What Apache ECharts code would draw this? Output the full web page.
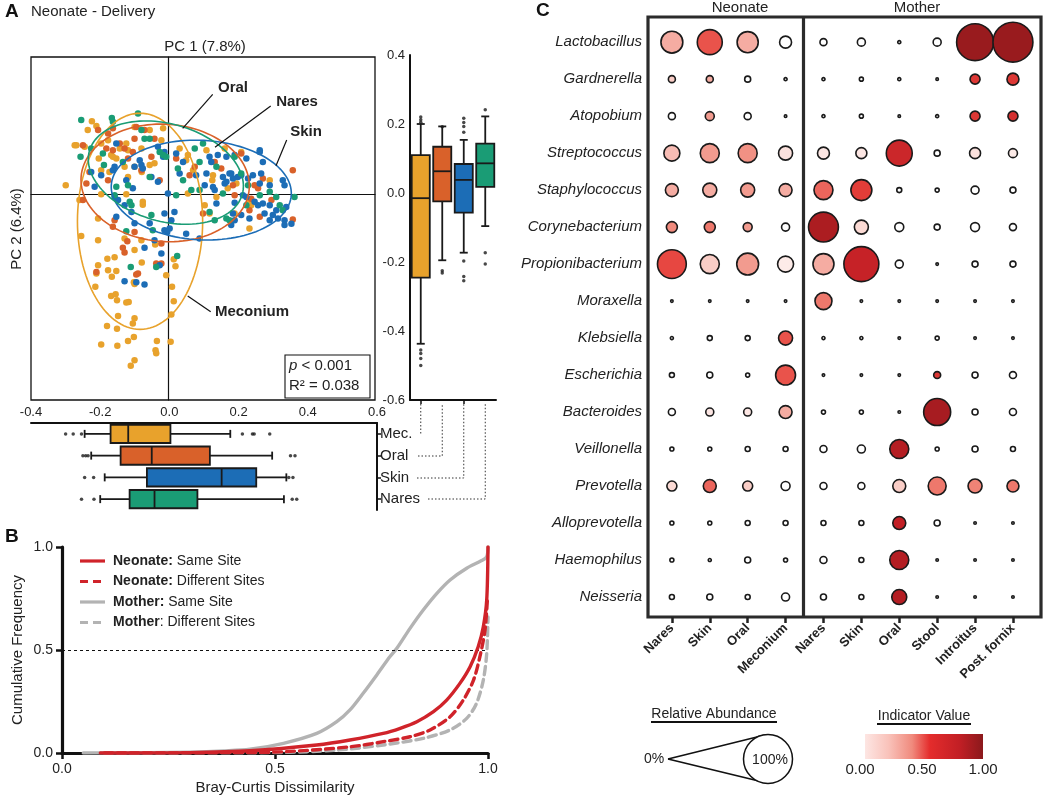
<!DOCTYPE html>
<html><head><meta charset="utf-8">
<script src="https://cdn.jsdelivr.net/npm/echarts@6/dist/echarts.min.js"></script>
<style>html,body{margin:0;padding:0;background:#fff}#c{width:1050px;height:798px}</style>
</head><body><div id="c"></div>
<script>
const FONT = '"Liberation Sans", Arial, Helvetica, sans-serif';
const INK = '#1a1a1a';

// ---------- Panel A data ----------
const groups = ['Meconium', 'Oral', 'Skin', 'Nares'];
const groupColors = ['#E8A22C', '#D9612A', '#1C6DB6', '#1A9C75'];

const pcaMeconium = [
  [-0.273,0.143],[-0.235,0.187],[-0.223,0.213],[-0.21,0.199],[-0.299,0.026],[-0.203,0.104],[-0.196,0.07],[-0.172,0.065],
  [-0.167,0.114],[-0.152,0.104],[-0.123,0.148],[-0.118,0.128],[-0.128,0.08],[-0.099,0.08],[-0.118,0.05],[-0.078,0.065],
  [-0.055,0.085],[-0.041,0.09],[-0.079,0.133],[-0.021,0.157],[-0.055,0.187],[-0.099,0.196],[-0.016,0.192],[-0.196,0],
  [-0.123,0],[-0.075,-0.022],[-0.075,-0.031],[-0.205,-0.071],[-0.162,0.109],[-0.142,0.133],[-0.196,0.148],[-0.176,0.157],
  [0.032,0.133],[0.056,0.114],[0.051,0.099],[0.071,0.07],[0.129,0.055],[0.127,0.041],[0.163,0.133],[0.172,0.017],
  [0.197,0.031],[0.211,0.123],[0.235,-0.022],[0.24,-0.032],[0.294,0.041],[0.056,0.002],[0.139,-0.008],[0.105,-0.032],
  [0.119,-0.056],[0.192,-0.056],[0.235,-0.1],[0.11,0.128],
  [-0.254,-0.122],[-0.205,-0.134],[-0.178,-0.188],[-0.157,-0.184],[-0.205,-0.207],[-0.21,-0.231],[-0.176,-0.222],
  [-0.152,-0.224],[-0.165,-0.241],[-0.213,-0.27],[-0.099,-0.163],[-0.078,-0.199],[-0.099,-0.262],[-0.167,-0.297],
  [-0.154,-0.292],[-0.15,-0.309],[-0.123,-0.316],[-0.116,-0.314],[-0.147,-0.355],[-0.099,-0.362],[-0.104,-0.377],
  [-0.179,-0.384],[-0.15,-0.392],[-0.101,-0.416],[-0.118,-0.428],[-0.196,-0.438],[-0.149,-0.442],[-0.034,-0.428],
  [-0.038,-0.455],[-0.036,-0.464],[-0.099,-0.484],[-0.11,-0.5],[0.006,-0.43],[0.01,-0.27],[0.015,-0.312],[0.008,-0.351],
  [-0.007,-0.236],[0.02,-0.21],[0.015,-0.19],[-0.039,-0.147],[-0.079,-0.134],[-0.128,-0.129],[-0.101,-0.257],
  [-0.268,0.143],[-0.244,0.138],[-0.259,-0.017]
];
const pcaOral = [
  [-0.249,0.143],[-0.205,0.187],[-0.176,0.177],[-0.162,0.192],[-0.181,0.133],[-0.162,0.128],[-0.142,0.148],[-0.128,0.133],
  [-0.104,0.123],[-0.099,0.162],[-0.07,0.187],[-0.041,0.162],[-0.05,0.109],[-0.079,0.07],[-0.118,0.104],[-0.176,0.041],
  [-0.239,0.031],[-0.23,0.065],[-0.094,0.196],[-0.026,0.041],[-0.157,-0.076],[-0.249,-0.017],
  [-0.133,-0.156],[-0.128,-0.17],[-0.12,-0.137],[-0.099,-0.11],[-0.036,-0.202],[-0.021,-0.144],[-0.094,-0.234],
  [-0.089,-0.231],[-0.21,-0.227],[-0.021,-0.202],[-0.162,-0.095],
  [0.022,0.104],[0.061,0.055],[0.076,0.08],[0.134,0.094],[0.153,0.075],[0.187,0.026],[0.211,0.119],[0.25,0.026],
  [0.26,0.017],[0.299,-0.017],[0.235,-0.047],[0.265,-0.066],[0.361,0.07],[0.361,-0.074],[0.192,-0.003],[0.1,-0.056],
  [0.24,-0.013],[0.274,0.046]
];
const pcaSkin = [
  [0.022,0.119],[0.042,0.094],[0.032,0.06],[0.119,0.109],[0.124,0.094],[0.143,0.114],[0.168,0.109],[0.192,0.114],
  [0.226,0.104],[0.265,0.123],[0.274,0.094],[0.158,0.05],[0.163,0.031],[0.182,0.06],[0.187,0.046],[0.201,0.05],
  [0.211,0.055],[0.231,0.046],[0.245,0.055],[0.269,0.06],[0.265,0.031],[0.294,0.026],[0.332,0.041],[0.337,0.026],
  [0.216,-0.003],[0.226,-0.008],[0.25,-0.022],[0.26,-0.032],[0.274,-0.027],[0.294,-0.032],[0.313,-0.047],[0.279,-0.056],
  [0.303,-0.061],[0.318,-0.071],[0.337,-0.076],[0.337,-0.09],[0.294,-0.076],[0.235,-0.071],[0.211,-0.061],[0.192,-0.076],
  [0.182,-0.09],[0.134,0.012],[0.105,0.026],[0.017,-0.052],[0.192,-0.025],[0.177,0.06],[0.168,0.036],
  [-0.152,0.148],[-0.157,0.08],[-0.162,0.07],[-0.196,0.055],[-0.225,0.065],[-0.215,0.022],[-0.099,0.08],[-0.084,0.099],
  [-0.079,0.085],[-0.075,0.075],[-0.123,0.041],[-0.104,0.017],[-0.157,-0.008],[-0.147,-0.017],[-0.128,-0.032],
  [-0.031,0.138],[-0.05,0.05],[-0.031,0.036],[-0.012,0.123],[-0.152,-0.066],[-0.099,-0.085],[-0.055,-0.085],
  [-0.012,-0.056],[0.008,-0.076],[-0.108,-0.052],
  [-0.07,-0.156],[-0.021,-0.173],[-0.128,-0.254],[-0.094,-0.257],[-0.07,-0.263],[-0.026,-0.207],[-0.041,-0.134],
  [-0.012,-0.105],[0.003,-0.1],[-0.004,-0.11],
  [0.09,-0.129],[0.051,-0.115],[0.357,-0.086],[0.342,-0.037],[0.265,0.128],[0.11,0.06],[0.08,0.055],[0.129,0.021],
  [0.139,-0.027],[0.187,-0.056],[-0.016,0.109],[-0.002,0.002]
];
const pcaNares = [
  [-0.254,0.216],[-0.165,0.222],[-0.089,0.235],[-0.162,0.211],[-0.256,0.109],[-0.225,0.133],[-0.191,0.119],[-0.188,0.085],
  [-0.079,0.187],[-0.07,0.162],[-0.055,0.162],[-0.026,0.123],[-0.016,0.114],[-0.007,0.109],[-0.152,0.022],[-0.157,-0.003],
  [-0.055,0.05],[-0.113,-0.022],[-0.108,-0.032],[-0.05,-0.061],[-0.133,0.094],[-0.118,0.026],
  [0.076,0.133],[0.1,0.148],[0.027,0.075],[0.042,0.041],[0.09,0.094],[0.09,0.012],[0.066,0.012],[0.022,-0.003],
  [0.192,0.109],[0.211,0.06],[0.231,0.026],[0.265,-0.003],[0.294,0.007],[0.323,-0.032],[0.366,-0.008],[0.158,0.002],
  [0.168,-0.071],[0.119,-0.052],[0.139,0.08],[0.226,-0.032],[0.313,-0.008],[0.332,-0.047],
  [-0.123,-0.108],[-0.11,-0.212],[-0.036,-0.212],[0.025,-0.18],[-0.046,-0.105],[0.134,-0.076],[0.177,-0.076]
];
// confidence ellipses: [centre x, centre y, semi-axis x, semi-axis y, rotation deg, group]
const ellipses = [
  [-0.083, -0.079, 0.182, 0.315, 0, 0],
  [-0.010, 0.033, 0.245, 0.171, -4, 1],
  [0.095, 0.012, 0.262, 0.145, -3, 2],
  [-0.008, 0.063, 0.231, 0.142, -16, 3]
];
const boxCats = ['Mec.', 'Oral', 'Skin', 'Nares'];
// [min, Q1, median, Q3, max]
const pc2Box = [
  [-0.437, -0.245, -0.015, 0.110, 0.200],
  [-0.195, -0.024, 0.063, 0.134, 0.193],
  [-0.173, -0.057, 0.038, 0.084, 0.154],
  [-0.096, 0.018, 0.086, 0.143, 0.222]
];
const pc2Outliers = [[0,0.205],[0,0.212],[0,0.22],[0,-0.455],[0,-0.465],[0,-0.48],[0,-0.5],[1,0.192],[1,-0.225],[1,-0.232],
  [2,0.176],[2,0.193],[2,0.204],[2,0.217],[2,-0.197],[2,-0.242],[2,-0.254],[3,0.241],[3,-0.173],[3,-0.206]];
const pc1Box = [
  [-0.245, -0.170, -0.119, 0.003, 0.176],
  [-0.226, -0.141, -0.051, 0.117, 0.297],
  [-0.187, -0.065, 0.151, 0.251, 0.338],
  [-0.200, -0.115, -0.043, 0.081, 0.331]
];
const pc1Outliers = [[-0.30,0],[-0.278,0],[-0.254,0],[0.211,0],[0.24,0],[0.245,0],[0.29,0],[-0.25,1],[-0.242,1],[-0.235,1],
  [0.35,1],[0.363,1],[-0.245,2],[-0.219,2],[0.345,2],[0.357,2],[-0.254,3],[-0.218,3],[0.355,3],[0.368,3]];

// ---------- Panel B data ----------
const motherSame = [[0.05,0],[0.2,0.001],[0.3,0.004],[0.38,0.01],[0.441,0.018],[0.52,0.047],[0.598,0.095],
  [0.645,0.152],[0.676,0.209],[0.707,0.29],[0.739,0.379],[0.77,0.468],[0.786,0.508],[0.817,0.605],[0.848,0.694],
  [0.88,0.775],[0.911,0.84],[0.95,0.897],[0.985,0.934],[0.997,0.953],[1.0,1.0]];
const motherDiff = [[0.1,0],[0.5,0.002],[0.65,0.015],[0.754,0.039],[0.848,0.071],[0.911,0.112],[0.95,0.168],
  [0.973,0.241],[0.989,0.354],[0.997,0.484],[1.0,0.66]];
const neonateSame = [[0.09,0],[0.3,0.002],[0.441,0.011],[0.598,0.039],[0.676,0.063],[0.754,0.095],[0.794,0.12],
  [0.833,0.152],[0.872,0.201],[0.903,0.257],[0.934,0.338],[0.958,0.419],[0.977,0.516],[0.989,0.613],[0.997,0.743],
  [1.0,1.0]];
const neonateDiff = [[0.1,0],[0.4,0.002],[0.52,0.006],[0.676,0.03],[0.754,0.055],[0.817,0.079],[0.864,0.112],
  [0.911,0.176],[0.942,0.257],[0.966,0.354],[0.981,0.468],[0.993,0.597],[0.999,0.76]];

// ---------- Panel C data ----------
const sites = ['Nares','Skin','Oral','Meconium','Nares','Skin','Oral','Stool','Introitus','Post. fornix'];
const genera = ['Lactobacillus','Gardnerella','Atopobium','Streptococcus','Staphylococcus','Corynebacterium',
  'Propionibacterium','Moraxella','Klebsiella','Escherichia','Bacteroides','Veillonella','Prevotella',
  'Alloprevotella','Haemophilus','Neisseria'];
const abundance = [
  [26,35,24,6.2,1.4,2.1,0.02,2.1,82,97],
  [1.4,1.4,0.85,0.02,0.02,0.16,0.02,0,3.9,6.2],
  [1.4,2.9,1.4,0,0.02,0.16,0,0.02,3.9,3.9],
  [12.6,18.9,18.9,9.2,6.2,5,38,0.85,5,2.9],
  [7.6,9.2,9.2,7.6,18.9,23.7,0.43,0.16,2.1,0.85],
  [5,5,2.9,2.1,52,9.2,2.9,0.85,2.9,1.4],
  [48,19,26,12.6,23.7,73,2.1,0,0.85,0.85],
  [0,0,0,0,14.6,0,0,0,0,0],
  [0.02,0.43,0.43,9.2,0.02,0.02,0,0.16,0,0],
  [0.43,0.85,0.16,21,0,0,0,1.4,0.85,1.4],
  [1.4,2.1,2.1,7.6,0.16,0.16,0,41.6,0.85,1.4],
  [0.16,0.16,0.43,0.43,1.4,2.1,18.9,0.16,0.85,0.43],
  [3.9,7.6,3.9,2.9,1.4,1.4,7.6,16.6,9.2,6.2],
  [0.16,0.16,0.43,0.43,0.43,0.43,7.6,0.85,0,0],
  [0.16,0.02,0.85,0.16,1.4,0.43,18.9,0,0,0],
  [0.43,0.85,0.43,2.1,0.85,0.43,10.8,0,0,0]
];
const indicator = [
  [0.3,0.55,0.3,0,0,0,0,0,0.95,0.95],
  [0.2,0.3,0,0,0,0,0,0,0.65,0.65],
  [0,0.35,0,0,0,0,0,0,0.65,0.7],
  [0.25,0.35,0.38,0.12,0.1,0.1,0.75,0,0.12,0.08],
  [0.3,0.3,0.35,0.3,0.5,0.62,0,0,0,0],
  [0.4,0.45,0.35,0,0.88,0.15,0,0,0,0],
  [0.58,0.2,0.35,0.08,0.3,0.78,0,0,0,0],
  [0,0,0,0,0.45,0,0,0,0,0],
  [0,0,0,0.55,0,0,0,0,0,0],
  [0,0,0,0.55,0,0,0,0.65,0,0],
  [0,0.1,0.1,0.3,0,0,0,0.9,0,0],
  [0,0,0,0,0,0,0.85,0,0,0],
  [0.15,0.5,0.2,0,0,0,0.2,0.45,0.42,0.45],
  [0,0,0,0,0,0,0.8,0,0,0],
  [0,0,0,0,0,0,0.85,0,0,0],
  [0,0,0,0,0,0,0.85,0,0,0]
];
const indicatorColors = ['#ffffff','#f9cdc6','#f08a7d','#e6403a','#c21f25','#8b191c'];

// ---------- build ----------
const chart = echarts.init(document.getElementById('c'), null, {renderer: 'canvas'});

function boxRender(horizontal) {
  return function (params, api) {
    const cat = api.value(0);
    const v = [1,2,3,4,5].map(i => api.value(i));
    const P = val => horizontal ? api.coord([val, cat]) : api.coord([cat, val]);
    const band = horizontal ? api.size([0, 1])[1] : api.size([1, 0])[0];
    const bw = band * 0.84, cap = 8;
    const ls = {stroke: INK, lineWidth: 1.8};
    const col = groupColors[cat];
    const c = P(v[2]);
    const mid = horizontal ? c[1] : c[0];
    const pos = v.map(val => horizontal ? P(val)[0] : P(val)[1]);
    const L = (a1, b1, a2, b2) => horizontal
      ? {type:'line', shape:{x1:a1, y1:b1, x2:a2, y2:b2}, style: ls}
      : {type:'line', shape:{x1:b1, y1:a1, x2:b2, y2:a2}, style: ls};
    const lo = Math.min(pos[1], pos[3]), hi = Math.max(pos[1], pos[3]);
    const rect = horizontal
      ? {x: lo, y: mid - bw/2, width: hi - lo, height: bw}
      : {x: mid - bw/2, y: lo, width: bw, height: hi - lo};
    return {type:'group', children:[
      L(pos[0], mid, pos[1], mid),
      L(pos[3], mid, pos[4], mid),
      L(pos[0], mid - cap/2, pos[0], mid + cap/2),
      L(pos[4], mid - cap/2, pos[4], mid + cap/2),
      {type:'rect', shape: rect, style:{fill: col, stroke: INK, lineWidth: 1.8}},
      L(pos[2], mid - bw/2, pos[2], mid + bw/2)
    ]};
  };
}

const pcaSets = [pcaMeconium, pcaOral, pcaSkin, pcaNares];
const series = [];
pcaSets.forEach((d, i) => series.push({
  type:'scatter', name: groups[i], xAxisIndex:0, yAxisIndex:0, data: d, symbolSize: 6.5,
  itemStyle:{color: groupColors[i], opacity: 1}, z: 2
}));
series.push({
  type:'custom', xAxisIndex:0, yAxisIndex:0, data: ellipses, encode:{x:0, y:1}, z: 5,
  renderItem: (params, api) => {
    const cx = api.value(0), cy = api.value(1), rx = api.value(2), ry = api.value(3);
    const a = api.value(4) * Math.PI / 180, g = api.value(5);
    const pts = [];
    for (let k = 0; k <= 120; k++) {
      const t = k / 120 * 2 * Math.PI, ex = rx * Math.cos(t), ey = ry * Math.sin(t);
      pts.push(api.coord([cx + ex*Math.cos(a) - ey*Math.sin(a), cy + ex*Math.sin(a) + ey*Math.cos(a)]));
    }
    return {type:'polyline', shape:{points: pts}, style:{fill: null, stroke: groupColors[g], lineWidth: 1.6}};
  }
});
series.push({
  type:'custom', xAxisIndex:1, yAxisIndex:1, data: pc2Box.map((b, i) => [i, ...b]),
  encode:{x:0, y:[1,2,3,4,5]}, renderItem: boxRender(false), z: 3
});
series.push({type:'scatter', xAxisIndex:1, yAxisIndex:1, data: pc2Outliers, symbolSize: 3.5, itemStyle:{color: INK}, z: 4});
series.push({
  type:'custom', xAxisIndex:2, yAxisIndex:2, data: pc1Box.map((b, i) => [i, ...b]),
  encode:{y:0, x:[1,2,3,4,5]}, renderItem: boxRender(true), z: 3
});
series.push({type:'scatter', xAxisIndex:2, yAxisIndex:2, data: pc1Outliers, symbolSize: 3.5, itemStyle:{color: INK}, z: 4});

const lineDefs = [
  [motherSame, '#b3b3b3', 'solid'], [motherDiff, '#b3b3b3', [8,5]],
  [neonateSame, '#d0232a', 'solid'], [neonateDiff, '#d0232a', [8,5]]
];
lineDefs.forEach(([d, c, t], i) => {
  const s = {type:'line', xAxisIndex:3, yAxisIndex:3, data: d, showSymbol:false, smooth:0.3,
    lineStyle:{color: c, width: 3.4, type: t, cap:'round', join:'round'}, z: 3 + i};
  if (i === 0) s.markLine = {symbol:'none', silent:true, label:{show:false},
    lineStyle:{color:'#111', width:1.2, type:[3,3]}, data:[{yAxis:0.5}]};
  series.push(s);
});

const bubbleData = [];
genera.forEach((g, r) => sites.forEach((s, c) => bubbleData.push([c, r, abundance[r][c], indicator[r][c]])));
const bubbleIndex = series.length;
series.push({
  type:'scatter', xAxisIndex:4, yAxisIndex:4, data: bubbleData,
  symbolSize: d => 2.5 + 38 * Math.sqrt(d[2] / 100),
  itemStyle:{borderColor: INK, borderWidth: 1.6, opacity: 1}, z: 3,
  markLine:{symbol:'none', silent:true, label:{show:false}, lineStyle:{color:'#2b2b2b', width:3.2, type:'solid'},
    data:[{xAxis:3.46}]}
});

const axisFont = {fontFamily: FONT, color: '#222'};
const blackLine = w => ({show:true, onZero:false, lineStyle:{color:'#111', width:w}});

const option = {
  animation: false,
  backgroundColor: '#fff',
  textStyle: {fontFamily: FONT},
  grid: [
    {left:31, top:57, width:344, height:343, show:true, borderColor:'#111', borderWidth:1.3, backgroundColor:'transparent'},
    {left:410, top:55, width:86, height:345},
    {left:31, top:423, width:346, height:87},
    {left:62, top:547, width:426, height:206},
    {left:648, top:17, width:393, height:600, show:true, borderColor:'#2b2b2b', borderWidth:3.2, backgroundColor:'transparent'}
  ],
  xAxis: [
    {type:'value', gridIndex:0, min:-0.4, max:0.6, axisLabel:{show:false}, axisTick:{show:false}, splitLine:{show:false},
      axisLine:{show:true, onZero:true, lineStyle:{color:'#111', width:1.2}}},
    {type:'category', gridIndex:1, data: boxCats, axisLabel:{show:false}, axisLine: blackLine(2),
      axisTick:{show:true, alignWithLabel:true, length:4, lineStyle:{color:'#111', width:1.5}}},
    {type:'value', gridIndex:2, position:'top', min:-0.4, max:0.6, interval:0.2, axisLine: blackLine(2),
      axisTick:{show:false}, splitLine:{show:false},
      axisLabel:{...axisFont, fontSize:13, margin:4, formatter: v => v.toFixed(1)}},
    {type:'value', gridIndex:3, min:0, max:1, interval:0.5, axisLine: blackLine(3.2), splitLine:{show:false},
      axisTick:{show:true, length:6, lineStyle:{color:'#111', width:2.5}},
      axisLabel:{...axisFont, fontSize:14, margin:9, formatter: v => v.toFixed(1)},
      name:'Bray-Curtis Dissimilarity', nameLocation:'middle', nameGap:27, nameTextStyle:{...axisFont, fontSize:15}},
    {type:'value', gridIndex:4, min:-0.63, max:9.74, axisLine:{show:false, onZero:false}, splitLine:{show:false},
      axisTick:{show:true, customValues:[0,1,2,3,4,5,6,7,8,9], length:6, lineStyle:{color:'#222', width:2.5}},
      axisLabel:{...axisFont, customValues:[0,1,2,3,4,5,6,7,8,9], rotate:45, fontSize:13, fontWeight:'bold', margin:9,
        formatter: v => sites[Math.round(v)]}}
  ],
  yAxis: [
    {type:'value', gridIndex:0, min:-0.6, max:0.4, axisLabel:{show:false}, axisTick:{show:false}, splitLine:{show:false},
      axisLine:{show:true, onZero:true, lineStyle:{color:'#111', width:1.2}}},
    {type:'value', gridIndex:1, min:-0.6, max:0.4, interval:0.2, axisLine: blackLine(2), axisTick:{show:false},
      splitLine:{show:false}, axisLabel:{...axisFont, fontSize:13, margin:5, formatter: v => v.toFixed(1)}},
    {type:'category', gridIndex:2, data: boxCats, inverse:true, position:'right', axisLine: blackLine(2),
      axisTick:{show:true, alignWithLabel:true, length:4, lineStyle:{color:'#111', width:1.5}},
      axisLabel:{...axisFont, fontSize:15, margin:3}},
    {type:'value', gridIndex:3, min:0, max:1, interval:0.5, axisLine: blackLine(3.2), splitLine:{show:false},
      axisTick:{show:true, length:6, lineStyle:{color:'#111', width:2.5}},
      axisLabel:{...axisFont, fontSize:14, margin:9, formatter: v => v.toFixed(1)},
      name:'Cumulative Frequency', nameLocation:'middle', nameGap:37, nameRotate:90, nameTextStyle:{...axisFont, fontSize:15}},
    {type:'value', gridIndex:4, min:-0.68, max:15.54, inverse:true, axisLine:{show:false, onZero:false},
      axisTick:{show:false}, splitLine:{show:false},
      axisLabel:{...axisFont, customValues:[0,1,2,3,4,5,6,7,8,9,10,11,12,13,14,15], fontSize:15, fontStyle:'italic', margin:6,
        formatter: v => genera[Math.round(v)]}}
  ],
  visualMap: [{type:'continuous', show:false, seriesIndex: bubbleIndex, dimension:3, min:0, max:1,
    inRange:{color: indicatorColors}}],
  series: series,
  graphic: []
};

// ---------- annotations (text / decoration) ----------
const T = (text, x, y, o = {}) => ({type:'text', x, y, rotation: o.rotation || 0, z: 50, silent:true,
  style:{text, fontFamily: FONT, fontSize: o.size || 15, fontWeight: o.weight || 'normal', fontStyle: o.style || 'normal',
    fill: o.color || '#222', align: o.align || 'left', verticalAlign: o.valign || 'middle',
    textAlign: o.align || 'left', textVerticalAlign: o.valign || 'middle', rich: o.rich}});
const Ln = (pts, o = {}) => ({type:'polyline', z: 50, silent:true, shape:{points: pts},
  style:{fill: null, stroke: o.color || '#111', lineWidth: o.w || 1.2, lineDash: o.dash || null}});

const g = option.graphic;
g.push(T('A', 5, 12, {size:19, weight:'bold', color:'#111'}));
g.push(T('Neonate - Delivery', 31, 12, {size:15}));
g.push(T('B', 5, 537, {size:19, weight:'bold', color:'#111'}));
g.push(T('C', 536, 11, {size:19, weight:'bold', color:'#111'}));
g.push(T('PC 1 (7.8%)', 205, 47, {align:'center'}));
g.push(T('PC 2 (6.4%)', 17, 229, {align:'center', rotation: Math.PI/2}));
// ellipse labels
g.push(T('Oral', 233, 88, {align:'center', weight:'bold', size:15}));
g.push(Ln([[212.7,94.3],[182.7,128.3]]));
g.push(T('Nares', 297, 102, {align:'center', weight:'bold', size:15}));
g.push(Ln([[270.7,106],[215,147.3]]));
g.push(T('Skin', 306, 132, {align:'center', weight:'bold', size:15}));
g.push(Ln([[286.7,140],[276,165.7]]));
g.push(T('Meconium', 252, 312, {align:'center', weight:'bold', size:15}));
g.push(Ln([[210.7,311.7],[187.7,296]]));
// stats box
g.push({type:'rect', z:50, silent:true, shape:{x:285, y:355, width:85, height:43}, style:{fill:'#fff', stroke:'#111', lineWidth:1.1}});
g.push(T('{i|p} < 0.001', 289, 366, {size:15, rich:{i:{fontStyle:'italic', fontSize:15, fontFamily:FONT}}}));
g.push(T('R² = 0.038', 289, 386, {size:15}));
// dotted connectors between the two box plots
const dot = {dash:[1.5,2], w:1, color:'#333'};
g.push(Ln([[420.75,404],[420.75,434]], dot));
g.push(Ln([[418,456],[442.25,456],[442.25,404]], dot));
g.push(Ln([[417,478],[463.75,478],[463.75,404]], dot));
g.push(Ln([[428,499],[485.25,499],[485.25,404]], dot));
// panel B legend
const legendRows = [
  ['{b|Neonate:} Same Site', '#d0232a', null],
  ['{b|Neonate:} Different Sites', '#d0232a', [8,5]],
  ['{b|Mother:} Same Site', '#b3b3b3', null],
  ['{b|Mother}: Different Sites', '#b3b3b3', [8,5]]
];
legendRows.forEach(([t, c, d], i) => {
  const y = 561 + i * 20.5;
  g.push(Ln([[80,y],[105,y]], {color:c, w:3.2, dash:d}));
  g.push(T(t, 113, y, {size:14, rich:{b:{fontWeight:'bold', fontSize:14, fontFamily:FONT, fill:'#222'}}}));
});
// panel C headers
g.push(T('Neonate', 740, 8, {align:'center'}));
g.push(T('Mother', 917, 8, {align:'center'}));
// Relative abundance legend
g.push(T('Relative Abundance', 714, 714, {align:'center', size:14}));
g.push(Ln([[651,722],[777,722]], {w:1.8}));
g.push(T('0%', 654, 759, {align:'center', size:14}));
g.push(Ln([[668,759],[765,735]], {w:1.6}));
g.push(Ln([[668,759],[767,783]], {w:1.6}));
g.push({type:'circle', z:50, silent:true, shape:{cx:768, cy:759, r:24.5}, style:{fill:'#fff', stroke:'#111', lineWidth:1.5}});
g.push(T('100%', 770, 760, {align:'center', size:14}));
// Indicator value legend
g.push(T('Indicator Value', 924, 716, {align:'center', size:14}));
g.push(Ln([[877,724],[971,724]], {w:1.8}));
g.push({type:'rect', z:50, silent:true, shape:{x:865, y:734, width:118, height:25},
  style:{fill: new echarts.graphic.LinearGradient(0, 0, 1, 0, [
    {offset:0, color:'#fde6e3'}, {offset:0.2, color:'#f9c2ba'}, {offset:0.4, color:'#f08a7d'},
    {offset:0.55, color:'#e42c2c'}, {offset:0.8, color:'#c21f25'}, {offset:1, color:'#8b191c'}])}});
g.push(T('0.00', 860, 770, {align:'center', size:15}));
g.push(T('0.50', 922, 770, {align:'center', size:15}));
g.push(T('1.00', 983, 770, {align:'center', size:15}));

chart.setOption(option);
</script>
</body></html>
